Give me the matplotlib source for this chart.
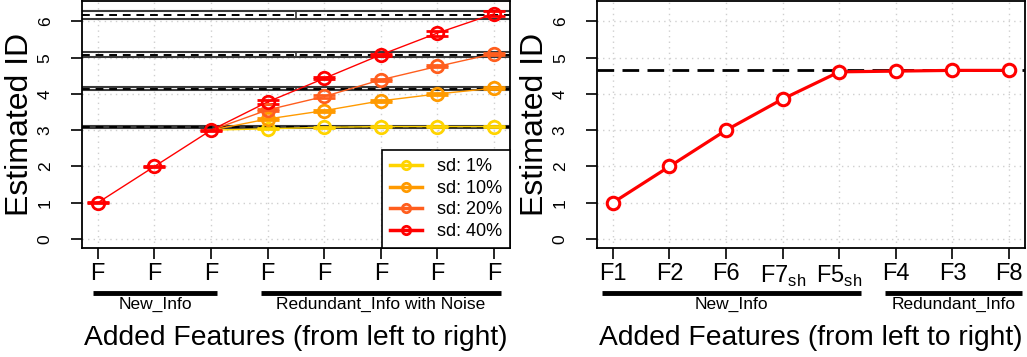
import matplotlib
matplotlib.use("Agg")
import matplotlib.pyplot as plt
import matplotlib.transforms as mtransforms
import numpy as np

plt.rcParams['font.family'] = ['Liberation Sans', 'DejaVu Sans']
plt.rcParams['mathtext.fontset'] = 'custom'
plt.rcParams['mathtext.rm'] = 'Liberation Sans'

# left panel data
x_left = [1, 2, 3, 4, 5, 6, 7, 8]
left_ticklabels = ['F'] * 8
base_vals = [1.0, 2.0, 3.0]
base_err = [0.01, 0.01, 0.01]
sd_labels = ['sd: 1%', 'sd: 10%', 'sd: 20%', 'sd: 40%']
sd_colors = ['#FFD400', '#FF9A00', '#FF5E1E', '#FF0000']
sd_vals = [
    [3.04, 3.08, 3.10, 3.10, 3.10],
    [3.31, 3.54, 3.81, 4.00, 4.16],
    [3.56, 3.93, 4.39, 4.76, 5.11],
    [3.78, 4.43, 5.08, 5.68, 6.21],
]
sd_err = [
    [0.02, 0.02, 0.02, 0.02, 0.02],
    [0.03, 0.03, 0.03, 0.03, 0.03],
    [0.03, 0.03, 0.03, 0.03, 0.03],
    [0.06, 0.03, 0.03, 0.07, 0.07],
]
# reference bands: centre, half width
band_mid = [3.09, 4.145, 5.085, 6.19]
band_half = [0.02, 0.045, 0.065, 0.11]

# right panel data
right_ticklabels = ['F1', 'F2', 'F6', r'F7$_{\mathrm{sh}}$', r'F5$_{\mathrm{sh}}$', 'F4', 'F3', 'F8']
right_vals = [1.0, 2.0, 3.0, 3.86, 4.61, 4.63, 4.65, 4.65]
right_ref = 4.66

fig = plt.figure(figsize=(10.27, 3.57), dpi=100)
ax1 = fig.add_axes([0.0798, 0.305, 0.4167, 0.691])
ax2 = fig.add_axes([0.5813, 0.305, 0.4167, 0.691])

for ax in (ax1, ax2):
    ax.set_xlim(0.72, 8.28)
    ax.set_ylim(-0.252, 6.552)
    ax.set_yticks(range(7))
    ax.set_xticks(x_left)
    ax.grid(True, color='#cfcfcf', linestyle=(0, (1, 3)), linewidth=1)
    ax.set_axisbelow(True)
    for s in ax.spines.values():
        s.set_linewidth(1.3)
    ax.tick_params(axis='y', length=8, width=1.2, labelsize=12.5, pad=13)
    ax.tick_params(axis='x', length=8, width=1.2, labelsize=17, pad=3)
    for lab in ax.get_yticklabels():
        lab.set_rotation(90)
        lab.set_va('center')
    ax.set_ylabel('Estimated ID', fontsize=23, va='center')
    ax.yaxis.set_label_coords(-0.145, 0.5)
    ax.set_xlabel('Added Features (from left to right)', fontsize=20.3, va='center')
    ax.xaxis.set_label_coords(0.5, -0.365)

# left panel bands
for m, h in zip(band_mid, band_half):
    ax1.axhline(m + h, color='#3a3a3a', lw=1.5, zorder=1.5)
    ax1.axhline(m - h, color='#3a3a3a', lw=1.5, zorder=1.5)
    ax1.axhline(m, color='black', lw=1.4, ls=(0, (4, 3)), zorder=1.6)
    ax1.plot([4.5, 4.5], [m - h, m + h], color='#3a3a3a', lw=1.2, zorder=1.5)

ax1.errorbar(x_left[:3], base_vals, yerr=base_err, color='#FF0000', lw=1,
             marker='o', mfc='none', ms=9, mew=2, capsize=8, capthick=2.5, zorder=3)
for vals, err, c, lab in zip(sd_vals, sd_err, sd_colors, sd_labels):
    ax1.plot([3, 4], [base_vals[-1], vals[0]], color=c, lw=1, zorder=2.5)
    ax1.errorbar(x_left[3:], vals, yerr=err, color=c, lw=1, marker='o', mfc='none',
                 ms=9, mew=2, capsize=8, capthick=2.5, zorder=3)
    ax1.plot([], [], color=c, lw=2.5, marker='o', mfc='none', ms=6, mew=2, label=lab)
ax1.set_xticklabels(left_ticklabels)
leg = ax1.legend(loc='lower right', borderaxespad=0, fancybox=False, edgecolor='black',
                 framealpha=1, fontsize=13, handlelength=1.8, labelspacing=0.25,
                 handletextpad=0.8, borderpad=0.45)
leg.get_frame().set_linewidth(1.2)

# right panel
ax2.axhline(right_ref, color='black', lw=2, ls=(0, (6, 3)), zorder=2)
ax2.plot(x_left, right_vals, color='#FF0000', lw=2.3, marker='o', mfc='white',
         ms=9, mew=2.2, zorder=3)
ax2.set_xticklabels(right_ticklabels)

# group brackets under the tick labels
def group(ax, x0, x1, text):
    tr = mtransforms.blended_transform_factory(ax.transData, ax.transAxes)
    ax.plot([x0, x1], [-0.182, -0.182], color='black', lw=3.5, transform=tr,
            clip_on=False, solid_capstyle='butt')
    ax.text((x0 + x1) / 2, -0.228, text, transform=tr, ha='center', va='center',
            fontsize=12.5)

group(ax1, 0.91, 3.11, 'New_Info')
group(ax1, 3.88, 8.12, 'Redundant_Info with Noise')
group(ax2, 0.81, 5.38, 'New_Info')
group(ax2, 5.81, 8.23, 'Redundant_Info')

fig.savefig('out.png', dpi=100)
